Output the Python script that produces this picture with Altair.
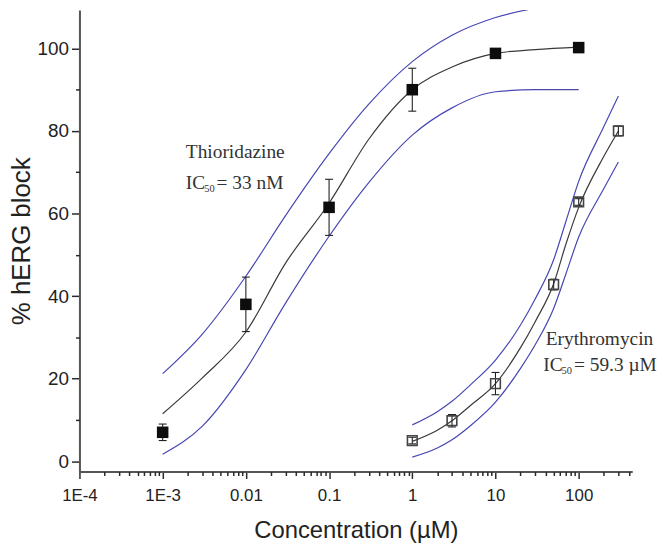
import altair as alt
import pandas as pd

# ---------------- data ----------------
# Thioridazine (filled squares), concentration in µM, % hERG block
thio_conc = [0.001, 0.01, 0.1, 1, 10, 100]
thio_mean = [7.0, 38.0, 61.5, 90.0, 98.8, 100.2]
thio_err = [2.0, 6.6, 6.8, 5.2, 0.5, 0.5]

# Erythromycin (open squares)
ery_conc = [1, 3, 10, 50, 100, 300]
ery_mean = [5.0, 9.8, 18.8, 42.8, 62.8, 80.0]
ery_err = [0.8, 1.5, 2.7, 1.3, 0.8, 1.2]

# fitted curves and confidence bands
thio_curve_conc = [0.001, 0.003, 0.01, 0.03, 0.1, 0.3, 1, 3, 10, 30, 100]
thio_fit = [11.5, 20.2, 31.3, 48.0, 62.5, 78.0, 90.0, 95.5, 98.8, 99.7, 100.3]
thio_upper = [21.2, 30.8, 44.8, 59.5, 74.5, 86.5, 96.8, 103.2, 107.5, 109.8, 112.0]
thio_lower = [1.7, 8.5, 22.2, 38.3, 54.5, 67.5, 79.0, 85.6, 89.5, 90.0, 90.0]

ery_curve_conc = [1, 2, 3, 5, 10, 20, 30, 50, 70, 100, 200, 300]
ery_fit = [4.8, 7.5, 9.8, 13.5, 18.8, 27.5, 33.8, 43.0, 52.5, 61.5, 73.8, 80.0]
ery_upper = [8.8, 12.0, 14.5, 18.5, 24.5, 33.0, 39.3, 48.8, 58.0, 67.8, 81.0, 88.5]
ery_lower = [1.0, 3.2, 5.2, 8.6, 14.3, 22.5, 28.2, 37.0, 45.3, 54.3, 66.0, 72.5]

# axis ticks / labels
x_major_ticks = [0.0001, 0.001, 0.01, 0.1, 1, 10, 100]
x_major_labels = ["1E-4", "1E-3", "0.01", "0.1", "1", "10", "100"]
x_minor_mult = [2, 3, 4, 5, 6, 7, 8, 9]
y_major_ticks = [0, 20, 40, 60, 80, 100]
y_minor_ticks = [10, 30, 50, 70, 90]

x_title = "Concentration (µM)"
y_title = "% hERG block"

thio_name = "Thioridazine"
thio_ic = ["IC", "50", "= 33 nM"]
ery_name = "Erythromycin"
ery_ic = ["IC", "50", "= 59.3 µM"]

# ---------------- build tables ----------------
X_MAX = 440
x_minor_ticks = [m * t for t in x_major_ticks for m in x_minor_mult if m * t <= X_MAX]

label_expr = "''"
for v, l in reversed(list(zip(x_major_ticks, x_major_labels))):
    label_expr = f"datum.value == {v!r} ? '{l}' : ({label_expr})"

curves = []
for name, kind, xs, ys in [
    ("thio_fit", "fit", thio_curve_conc, thio_fit),
    ("thio_upper", "band", thio_curve_conc, thio_upper),
    ("thio_lower", "band", thio_curve_conc, thio_lower),
    ("ery_fit", "fit", ery_curve_conc, ery_fit),
    ("ery_upper", "band", ery_curve_conc, ery_upper),
    ("ery_lower", "band", ery_curve_conc, ery_lower),
]:
    for xv, yv in zip(xs, ys):
        curves.append({"conc": xv, "value": yv, "curve": name, "kind": kind})
curves = pd.DataFrame(curves)

thio = pd.DataFrame({"conc": thio_conc, "mean": thio_mean, "err": thio_err})
thio["lo"] = thio["mean"] - thio["err"]
thio["hi"] = thio["mean"] + thio["err"]
ery = pd.DataFrame({"conc": ery_conc, "mean": ery_mean, "err": ery_err})
ery["lo"] = ery["mean"] - ery["err"]
ery["hi"] = ery["mean"] + ery["err"]

# ---------------- scales & axes ----------------
xscale = alt.Scale(type="log", domain=[0.0001, X_MAX], nice=False)
yscale = alt.Scale(domain=[-2.5, 109.3], nice=False, zero=False)

TICK = dict(ticks=True, tickColor="#2a2a2a", tickWidth=1.5, tickOpacity=1, zindex=1)

xaxis = alt.Axis(
    orient="bottom",
    title=x_title,
    values=x_major_ticks,
    labelExpr=label_expr,
    tickSize=7,
    labelFlush=False,
    labelOverlap=False,
    labelFontSize=17,
    labelPadding=9,
    titleFontSize=24,
    titlePadding=15,
    **TICK,
)
yaxis = alt.Axis(
    orient="left",
    title=y_title,
    values=y_major_ticks,
    tickSize=8,
    labelFlush=False,
    labelOverlap=False,
    labelFontSize=19,
    labelPadding=3,
    titleFontSize=26,
    titlePadding=3,
    **TICK,
)
xaxis_minor = alt.Axis(orient="bottom", values=x_minor_ticks, labels=False, domain=False, tickSize=4, title=None, **TICK)
yaxis_minor = alt.Axis(orient="left", values=y_minor_ticks, labels=False, domain=False, tickSize=4, title=None, **TICK)


def X(field):
    return alt.X(field, type="quantitative", scale=xscale, axis=xaxis)


def Y(field):
    return alt.Y(field, type="quantitative", scale=yscale, axis=yaxis)


BLUE = "#4747b3"

lines = alt.Chart(curves).mark_line(clip=True, interpolate="monotone", strokeWidth=1.2).encode(
    x=X("conc"),
    y=Y("value"),
    detail="curve:N",
    color=alt.Color("kind:N", scale=alt.Scale(domain=["fit", "band"], range=["#3a3a3a", BLUE]), legend=None),
)

CAP = "M-1,0L1,0"


def err_layers(df):
    base = alt.Chart(df)
    rule = base.mark_rule(color="#222", strokeWidth=1.1).encode(x=X("conc"), y=Y("lo"), y2="hi")
    cap_lo = base.mark_point(shape=CAP, size=64, filled=False, color="#222", strokeWidth=1.1, opacity=1).encode(
        x=X("conc"), y=Y("lo")
    )
    cap_hi = base.mark_point(shape=CAP, size=64, filled=False, color="#222", strokeWidth=1.1, opacity=1).encode(
        x=X("conc"), y=Y("hi")
    )
    return [rule, cap_lo, cap_hi]


thio_pts = alt.Chart(thio).mark_square(size=135, color="#0d0d0d", opacity=1).encode(x=X("conc"), y=Y("mean"))
ery_pts = alt.Chart(ery).mark_square(size=95, filled=False, color="#444", strokeWidth=1.6, opacity=1).encode(
    x=X("conc"), y=Y("mean")
)


def text_layer(txt, xv, yv, dx=0, dy=0, size=19.5):
    df = pd.DataFrame({"x": [xv], "y": [yv], "t": [txt]})
    return alt.Chart(df).mark_text(
        align="left", baseline="middle", dx=dx, dy=dy, fontSize=size, font="Liberation Serif", color="#333"
    ).encode(x=X("x"), y=Y("y"), text="t:N")


# annotation anchors (data coordinates)
texts = [
    text_layer(thio_name, 0.0019, 75.0),
    text_layer(thio_ic[0], 0.0019, 67.5),
    text_layer(thio_ic[1], 0.0019, 67.5, dx=18.5, dy=6, size=10.5),
    text_layer(thio_ic[2], 0.0019, 67.5, dx=31),
    text_layer(ery_name, 40.2, 29.7),
    text_layer(ery_ic[0], 37.5, 23.2),
    text_layer(ery_ic[1], 37.5, 23.2, dx=18.5, dy=6, size=10.5),
    text_layer(ery_ic[2], 37.5, 23.2, dx=31),
]

main = alt.layer(lines, *err_layers(thio), *err_layers(ery), thio_pts, ery_pts, *texts)

minor = alt.Chart(thio).mark_point(opacity=0).encode(
    x=alt.X("conc", type="quantitative", scale=xscale, axis=xaxis_minor),
    y=alt.Y("mean", type="quantitative", scale=yscale, axis=yaxis_minor),
)

chart = alt.layer(main, minor).resolve_axis(x="independent", y="independent").properties(
    width=557,
    height=465,
    autosize="none",
    padding={"left": 72, "top": 0, "right": 30, "bottom": 73},
).configure_view(stroke=None).configure_axis(
    grid=False,
    domainColor="#555",
    domainWidth=2,
    labelFont="Liberation Sans",
    titleFont="Liberation Sans",
    titleFontWeight="normal",
    labelColor="#222",
    titleColor="#222",
)

chart.save("out.html", embed_options={"renderer": "svg", "actions": False})
